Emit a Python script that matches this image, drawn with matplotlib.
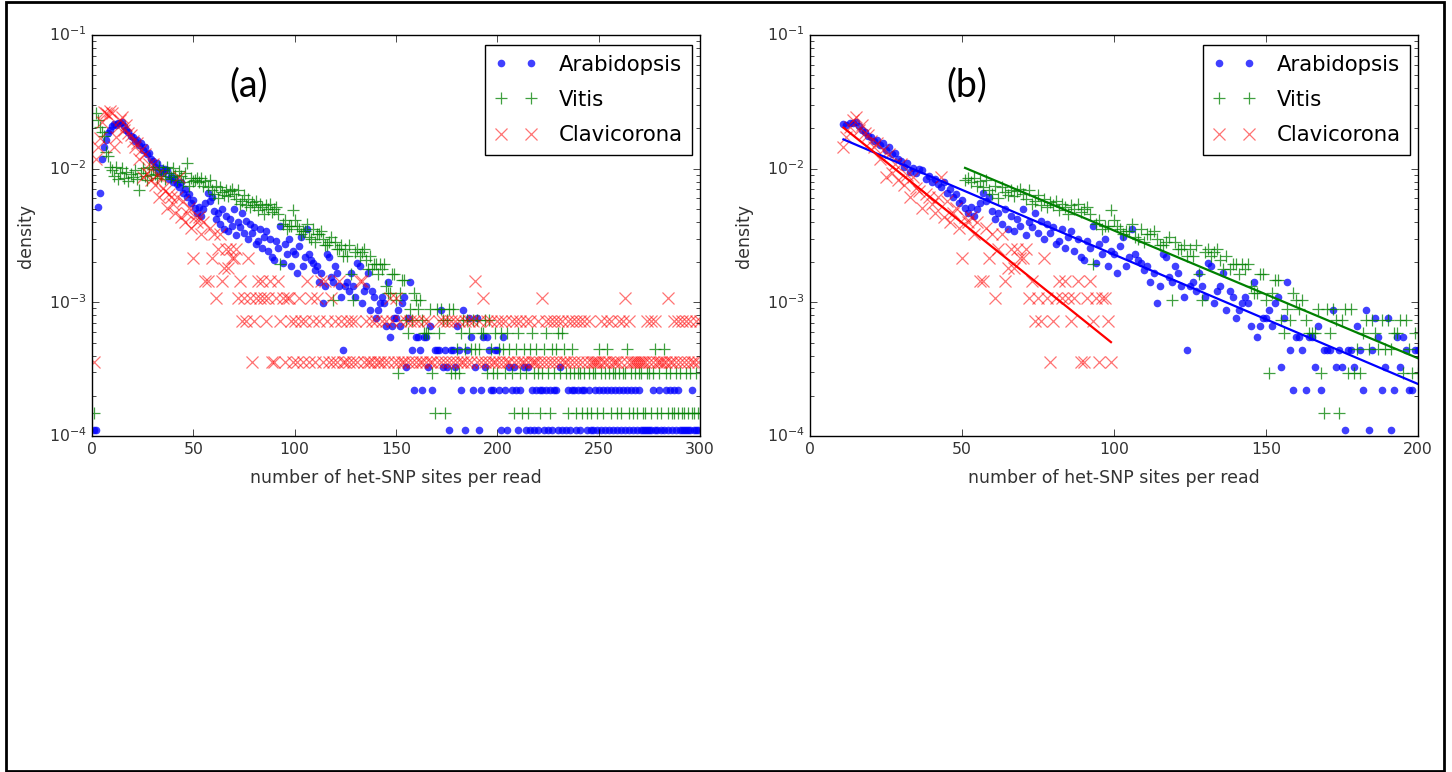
import numpy as np
import matplotlib
matplotlib.use("Agg")
import matplotlib.pyplot as plt
from matplotlib.patches import Rectangle

# number of het-SNP sites per read (histogram bins)
sites = np.arange(0, 301)

# bin counts; density = count * unit (one read)
arab_unit = 1.1e-4
arab_counts = [
    0, 1, 1, 47, 60, 107, 133, 150, 168, 178,
    188, 195, 192, 200, 198, 203, 190, 177, 172, 160,
    158, 146, 150, 136, 141, 126, 131, 118, 120, 108,
    104, 94, 100, 86, 92, 84, 90, 89, 76, 80,
    72, 76, 70, 66, 72, 60, 64, 56, 59, 50,
    53, 46, 42, 47, 40, 45, 50, 60, 52, 56,
    44, 38, 42, 35, 45, 32, 40, 31, 38, 34,
    45, 29, 36, 33, 42, 30, 37, 27, 35, 30,
    33, 25, 26, 32, 23, 28, 31, 22, 27, 20,
    19, 26, 23, 34, 18, 25, 21, 27, 17, 22,
    21, 15, 24, 28, 17, 20, 32, 21, 19, 18,
    16, 17, 13, 15, 9, 12, 21, 20, 14, 13,
    17, 15, 12, 10, 4, 12, 13, 11, 15, 12,
    10, 18, 17, 9, 11, 12, 15, 8, 11, 10,
    7, 8, 9, 10, 9, 6, 13, 5, 6, 7,
    7, 8, 6, 9, 10, 3, 7, 13, 4, 2,
    5, 5, 4, 2, 5, 5, 3, 6, 2, 4,
    4, 4, 8, 3, 4, 3, 1, 4, 4, 3,
    6, 4, 2, 8, 1, 4, 7, 5, 2, 3,
    7, 1, 2, 5, 3, 5, 4, 2, 2, 4,
    4, 2, 1, 5, 2, 1, 3, 2, 3, 2,
    1, 2, 0, 3, 1, 3, 1, 2, 1, 2,
    1, 2, 2, 1, 2, 1, 2, 1, 2, 2,
    1, 3, 1, 0, 1, 2, 1, 2, 2, 1,
    2, 1, 2, 2, 1, 2, 1, 1, 2, 1,
    2, 1, 2, 1, 2, 1, 2, 1, 2, 1,
    2, 1, 2, 1, 2, 1, 2, 1, 2, 1,
    2, 1, 1, 1, 1, 1, 1, 2, 1, 1,
    2, 1, 1, 2, 1, 2, 1, 2, 1, 2,
    1, 1, 1, 1, 1, 1, 2, 1, 1, 1,
    0]

vitis_unit = 1.48e-4
vitis_counts = [
    0, 1, 176, 155, 139, 128, 118, 90, 84, 70,
    66, 60, 70, 57, 63, 68, 58, 64, 55, 62,
    59, 66, 57, 47, 63, 68, 60, 56, 70, 61,
    67, 62, 58, 69, 60, 66, 57, 70, 63, 59,
    68, 61, 56, 65, 60, 54, 63, 74, 50, 58,
    55, 56, 58, 54, 58, 50, 55, 49, 56, 47,
    44, 50, 41, 49, 45, 43, 47, 42, 46, 48,
    44, 40, 47, 37, 39, 43, 36, 40, 35, 38,
    36, 39, 33, 37, 35, 31, 36, 34, 37, 32,
    34, 35, 31, 13, 26, 28, 24, 25, 25, 33,
    28, 25, 24, 22, 23, 23, 26, 21, 20, 24,
    19, 22, 22, 23, 20, 18, 18, 19, 21, 7,
    19, 17, 17, 18, 15, 17, 15, 18, 11, 7,
    16, 17, 15, 16, 17, 14, 12, 15, 12, 13,
    13, 11, 13, 12, 13, 9, 8, 8, 11, 11,
    7, 2, 8, 10, 10, 5, 4, 6, 5, 8,
    7, 6, 7, 5, 4, 4, 4, 6, 2, 1,
    6, 4, 6, 5, 1, 5, 6, 2, 6, 2,
    3, 2, 4, 5, 3, 5, 4, 3, 5, 3,
    5, 3, 4, 4, 5, 2, 5, 3, 2, 4,
    2, 3, 4, 3, 2, 4, 3, 2, 1, 3,
    4, 2, 1, 3, 2, 1, 3, 4, 2, 3,
    2, 1, 2, 3, 4, 2, 1, 3, 2, 3,
    4, 2, 4, 3, 2, 1, 2, 3, 2, 1,
    2, 2, 1, 2, 1, 2, 1, 2, 2, 1,
    3, 2, 1, 2, 3, 2, 1, 2, 2, 1,
    2, 1, 2, 2, 3, 1, 2, 1, 2, 1,
    2, 2, 1, 1, 2, 2, 1, 2, 3, 1,
    2, 1, 3, 2, 1, 2, 1, 1, 2, 1,
    2, 1, 1, 2, 1, 2, 1, 1, 2, 1,
    1]

clav_unit = 3.6e-4
clav_counts = [
    0, 1, 33, 40, 47, 62, 74, 72, 70, 75,
    73, 40, 48, 57, 64, 68, 54, 59, 51, 50,
    45, 40, 43, 33, 38, 24, 36, 26, 30, 23,
    30, 21, 25, 17, 24, 20, 19, 14, 18, 17,
    15, 13, 17, 24, 12, 16, 11, 13, 14, 10,
    6, 12, 11, 12, 9, 11, 4, 4, 10, 6,
    9, 3, 7, 9, 4, 5, 7, 5, 7, 6,
    6, 7, 3, 4, 2, 3, 2, 6, 3, 1,
    2, 3, 4, 3, 4, 3, 2, 3, 4, 1,
    1, 3, 4, 2, 3, 1, 3, 3, 2, 1,
    2, 1, 3, 2, 1, 2, 4, 1, 3, 2,
    1, 3, 2, 4, 1, 4, 2, 1, 3, 1,
    2, 1, 4, 2, 1, 1, 2, 1, 2, 1,
    2, 1, 4, 4, 1, 2, 1, 1, 2, 1,
    2, 1, 1, 2, 1, 2, 1, 3, 2, 1,
    3, 1, 2, 1, 1, 2, 1, 2, 1, 2,
    1, 2, 1, 1, 2, 1, 2, 1, 1, 0,
    1, 2, 1, 2, 1, 2, 1, 2, 1, 2,
    1, 2, 1, 1, 2, 1, 2, 1, 2, 4,
    1, 2, 1, 3, 1, 2, 1, 2, 1, 1,
    2, 1, 2, 1, 2, 1, 1, 2, 1, 2,
    1, 2, 1, 1, 2, 1, 2, 1, 1, 1,
    2, 1, 3, 1, 2, 1, 2, 1, 2, 1,
    2, 1, 2, 1, 1, 2, 1, 2, 1, 2,
    1, 2, 1, 2, 1, 2, 1, 1, 1, 1,
    1, 2, 1, 1, 2, 1, 2, 1, 1, 1,
    2, 1, 2, 3, 1, 2, 1, 1, 1, 1,
    1, 1, 1, 1, 2, 1, 2, 1, 2, 1,
    1, 1, 1, 1, 3, 1, 1, 2, 1, 2,
    1, 2, 1, 2, 1, 2, 1, 1, 2, 1,
    2]

# x ranges shown (and fitted) in panel (b)
arab_range = (11, 200)
vitis_range = (51, 200)
clav_range = (11, 99)

species = [
    ('Arabidopsis', arab_counts, arab_unit, arab_range, 'b', 'o'),
    ('Vitis', vitis_counts, vitis_unit, vitis_range, 'g', '+'),
    ('Clavicorona', clav_counts, clav_unit, clav_range, 'r', 'x'),
]

plt.style.use('classic')
plt.rcParams['font.family'] = ['DejaVu Sans']
plt.rcParams['mathtext.fontset'] = 'dejavusans'


def density(counts, unit):
    d = np.array(counts, dtype=float) * unit
    d[d <= 0] = np.nan
    return d


def marker_kw(color, marker):
    if marker == 'o':
        return dict(marker='o', ms=5.5, mew=0, mfc=color, alpha=0.75)
    return dict(marker=marker, ms=9, mew=0.9, mec=color, alpha=0.55 if marker == 'x' else 0.75)


def style_axes(ax, xmax, tag):
    ax.set_yscale('log')
    ax.set_ylim(1e-4, 1e-1)
    ax.set_xlim(0, xmax)
    ax.set_xticks(np.arange(0, xmax + 1, 50))
    ax.set_xlabel('number of het-SNP sites per read', fontsize=12.5, color='#333333',
                  labelpad=9)
    ax.set_ylabel('density', fontsize=12.5, color='#333333', labelpad=10)
    ax.tick_params(labelsize=11.3, labelcolor='#333333')
    ax.tick_params(which='major', length=5)
    ax.tick_params(which='minor', length=3)
    ax.text(0.258, 0.875, tag, transform=ax.transAxes, ha='center', va='center',
            fontsize=27, family='Lato')
    ax.legend(loc='upper right', bbox_to_anchor=(0.987, 0.975), borderaxespad=0,
              numpoints=2, fontsize=15.3, handlelength=2.0, handletextpad=1.0,
              labelspacing=0.72, borderpad=0.45, fancybox=False)


fig = plt.figure(figsize=(14.52, 7.72), dpi=100, facecolor='white')
ax1 = fig.add_axes([92 / 1452, 1 - 436 / 772, 608 / 1452, 401 / 772])
ax2 = fig.add_axes([810 / 1452, 1 - 436 / 772, 608 / 1452, 401 / 772])

# (a): full histograms
for name, counts, unit, rng, color, marker in species:
    ax1.plot(sites, density(counts, unit), linestyle='None', label=name,
             **marker_kw(color, marker))
style_axes(ax1, 300, '(a)')

# (b): restricted ranges with log-linear fits
for name, counts, unit, rng, color, marker in species:
    d = density(counts, unit)
    sel = (sites >= rng[0]) & (sites <= rng[1])
    ax2.plot(sites[sel], d[sel], linestyle='None', label=name,
             **marker_kw(color, marker))
for name, counts, unit, rng, color, marker in species:
    d = density(counts, unit)
    sel = (sites >= rng[0]) & (sites <= rng[1]) & np.isfinite(d)
    k, b = np.polyfit(sites[sel], np.log10(d[sel]), 1)
    xs = np.array(rng, dtype=float)
    ax2.plot(xs, 10 ** (k * xs + b), color=color, lw=1.6)
style_axes(ax2, 200, '(b)')

fig.patches.append(Rectangle((6 / 1452, 1 / 772), 1438 / 1452, 769 / 772,
                             transform=fig.transFigure, fill=False,
                             edgecolor='black', linewidth=2))

fig.savefig('out.png', dpi=100, facecolor='white')
